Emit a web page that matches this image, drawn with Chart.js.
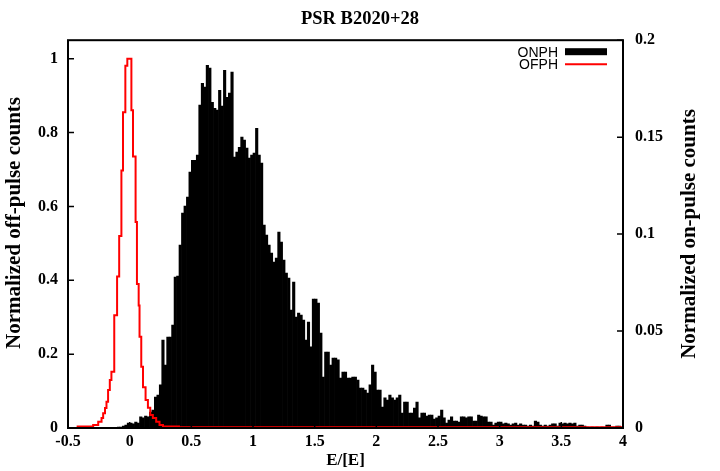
<!DOCTYPE html>
<html>
<head>
<meta charset="utf-8">
<script src="https://cdn.jsdelivr.net/npm/chart.js@4.4.1/dist/chart.umd.min.js"></script>
<style>
  html, body { margin: 0; padding: 0; background: #fff; }
  #wrap { width: 720px; height: 471px; }
</style>
</head>
<body>
<div id="wrap"><canvas id="pulseChart" width="720" height="471"></canvas></div>
<script>
const titleText = 'PSR B2020+28';
const xTitle = 'E/[E]';
const offTitle = 'Normalized off-pulse counts';
const onTitle = 'Normalized on-pulse counts';

const xTicks = [-0.5, 0, 0.5, 1, 1.5, 2, 2.5, 3, 3.5, 4];
const offTicks = [0, 0.2, 0.4, 0.6, 0.8, 1];
const onTicks = [0, 0.05, 0.1, 0.15, 0.2];

// on-pulse histogram (right axis), bins of 0.02 starting at -0.1
const onBinStart = -0.1;
const onBinWidth = 0.02;
const onCounts = [
  0.0005, 0.0005, 0.001, 0.0015, 0.0026, 0.0026, 0.0021, 0.0031, 0.0026, 0.0057,
  0.0052, 0.0062, 0.0057, 0.0082, 0.0093, 0.016, 0.017, 0.0222, 0.0454, 0.0325,
  0.0469, 0.0469, 0.0531, 0.0778, 0.0784, 0.0943, 0.1108, 0.1144, 0.1191, 0.132,
  0.1381, 0.1381, 0.1407, 0.1665, 0.1778, 0.1758, 0.1871, 0.1856, 0.168, 0.1649,
  0.1639, 0.1742, 0.166, 0.1845, 0.1706, 0.1727, 0.1835, 0.1397, 0.1423, 0.1448,
  0.15, 0.1485, 0.1443, 0.1392, 0.1407, 0.1418, 0.1546, 0.1407, 0.1366, 0.1046,
  0.0995, 0.0943, 0.0902, 0.0856, 0.0876, 0.101, 0.0959, 0.0866, 0.0799, 0.0773,
  0.0608, 0.0753, 0.0572, 0.0593, 0.0582, 0.0557, 0.0454, 0.0546, 0.0418, 0.0665,
  0.0665, 0.0644, 0.049, 0.0263, 0.0392, 0.0392, 0.0325, 0.0361, 0.0361, 0.0351,
  0.0258, 0.0289, 0.0289, 0.0258, 0.0258, 0.0263, 0.0263, 0.0247, 0.0206, 0.0206,
  0.0196, 0.018, 0.0222, 0.0325, 0.0289, 0.0196, 0.0196, 0.0108, 0.0155, 0.0144,
  0.017, 0.0155, 0.0144, 0.0155, 0.017, 0.0077, 0.0134, 0.0134, 0.0077, 0.0077,
  0.0103, 0.0134, 0.0052, 0.0077, 0.0077, 0.0062, 0.0067, 0.0067, 0.0046, 0.0052,
  0.0062, 0.0093, 0.0052, 0.0026, 0.0041, 0.0057, 0.0036, 0.0036, 0.0031, 0.0057,
  0.0057, 0.0052, 0.0057, 0.0057, 0.0036, 0.0036, 0.0067, 0.0062, 0.0057, 0.0057,
  0.0031, 0.0031, 0.0015, 0.0026, 0.0031, 0.0031, 0.0021, 0.0026, 0.0021, 0.0015,
  0.0021, 0.0026, 0.0015, 0.0021, 0.0015, 0.0015, 0.001, 0.0015, 0.001, 0.0036,
  0.0031, 0.0015, 0.001, 0.0015, 0.001, 0.0015, 0.0021, 0.0021, 0.001, 0.0026,
  0.0021, 0.0026, 0.0021, 0.0026, 0.0021, 0.0026, 0.001, 0.0015, 0.0015, 0.001,
  0.0005, 0, 0.0005, 0, 0.0005, 0, 0.0005, 0, 0.0015, 0.0015,
  0.0005, 0.0005, 0.001, 0.001, 0.0005
];

// off-pulse histogram (left axis): left bin edge and level of each step
const offEdges = [
  -0.43, -0.296, -0.255, -0.228, -0.215, -0.2, -0.188, -0.175, -0.161, -0.148,
  -0.125, -0.102, -0.085, -0.067, -0.054, -0.035, -0.019, 0.014, 0.027, 0.048,
  0.059, 0.073, 0.08, 0.094, 0.108, 0.129, 0.148, 0.167, 0.188, 0.215,
  0.242, 0.27, 0.4, 4.0
];
const offCounts = [
  0.004, 0.008, 0.017, 0.027, 0.04, 0.054, 0.071, 0.103, 0.13, 0.152,
  0.305, 0.41, 0.52, 0.697, 0.855, 0.981, 1.0, 0.86, 0.735, 0.558,
  0.39, 0.332, 0.247, 0.166, 0.11, 0.076, 0.055, 0.035, 0.027, 0.017,
  0.008, 0.004, 0.002, 0.002
];

const serifFamily = "'Liberation Serif', 'Times New Roman', serif";
const serifBold = size => ({ family: serifFamily, size: size, weight: 'bold' });

const onData = onCounts.map((v, i) => ({ x: onBinStart + onBinWidth * (i + 0.5), y: v }));
const offData = offCounts.map((v, i) => ({ x: offEdges[i], y: v }));

// draw a label turned to read bottom to top
const drawUpText = (ctx, text, x, y) => {
  ctx.save();
  ctx.translate(x, y);
  ctx.rotate(-Math.PI / 2);
  ctx.textAlign = 'center';
  ctx.textBaseline = 'middle';
  ctx.fillStyle = '#000';
  ctx.font = 'bold 21px ' + serifFamily;
  ctx.fillText(text, 0, 0);
  ctx.restore();
};

// frame, inward ticks, y titles and key in gnuplot style
const gnuFrame = {
  id: 'gnuFrame',
  afterDatasetsDraw(chart) {
    const { ctx, chartArea: a, scales } = chart;
    ctx.save();
    ctx.strokeStyle = '#000';
    ctx.lineWidth = 1.5;
    ctx.beginPath();
    xTicks.forEach(v => {
      const px = scales.x.getPixelForValue(v);
      ctx.moveTo(px, a.bottom);
      ctx.lineTo(px, a.bottom - 6);
    });
    offTicks.forEach(v => {
      const py = scales.y.getPixelForValue(v);
      ctx.moveTo(a.left, py);
      ctx.lineTo(a.left + 6, py);
    });
    onTicks.forEach(v => {
      const py = scales.y2.getPixelForValue(v);
      ctx.moveTo(a.right, py);
      ctx.lineTo(a.right - 6, py);
    });
    ctx.stroke();
    ctx.lineWidth = 2;
    ctx.strokeRect(a.left, a.top, a.right - a.left, a.bottom - a.top);

    // key
    ctx.font = "14px 'Liberation Sans', Arial, sans-serif";
    ctx.fillStyle = '#000';
    ctx.textAlign = 'right';
    ctx.textBaseline = 'middle';
    const ds = chart.data.datasets;
    ctx.fillText(ds[1].label, a.right - 65, a.top + 13);
    ctx.fillStyle = ds[1].backgroundColor;
    ctx.fillRect(a.right - 58, a.top + 8, 42, 7);
    ctx.fillStyle = '#000';
    ctx.fillText(ds[0].label, a.right - 65, a.top + 25);
    ctx.strokeStyle = ds[0].borderColor;
    ctx.lineWidth = 2;
    ctx.beginPath();
    ctx.moveTo(a.right - 58, a.top + 24);
    ctx.lineTo(a.right - 16, a.top + 24);
    ctx.stroke();
    ctx.restore();

    drawUpText(ctx, offTitle, 15, 223);
    drawUpText(ctx, onTitle, 690, 234);
  }
};

new Chart(document.getElementById('pulseChart'), {
  type: 'bar',
  data: {
    datasets: [
      {
        type: 'line',
        label: 'OFPH',
        data: offData,
        yAxisID: 'y',
        borderColor: '#ff0000',
        borderWidth: 2,
        pointRadius: 0,
        stepped: 'before',
        fill: false,
        order: 0
      },
      {
        type: 'bar',
        label: 'ONPH',
        data: onData,
        yAxisID: 'y2',
        backgroundColor: '#000000',
        borderWidth: 0,
        barPercentage: 1,
        categoryPercentage: 1,
        order: 1
      }
    ]
  },
  options: {
    responsive: false,
    animation: false,
    layout: { padding: 0 },
    plugins: {
      legend: { display: false },
      tooltip: { enabled: false },
      title: {
        display: true,
        text: titleText,
        color: '#000',
        font: serifBold(18.5),
        padding: { top: 8, bottom: 10 }
      }
    },
    scales: {
      x: {
        type: 'linear',
        offset: false,
        min: -0.5,
        max: 4,
        afterBuildTicks: s => { s.ticks = xTicks.map(v => ({ value: v })); },
        afterFit: s => { s.height = 43; },
        grid: { display: false, drawTicks: false, offset: false },
        border: { display: false },
        ticks: { color: '#000', font: serifBold(16), padding: 4, maxRotation: 0, autoSkip: false,
                 callback: v => String(v) },
        title: { display: true, text: xTitle, color: '#000', font: serifBold(17), padding: { top: 0, bottom: 0 } }
      },
      y: {
        position: 'left',
        min: 0,
        max: 1.05,
        afterBuildTicks: s => { s.ticks = offTicks.map(v => ({ value: v })); },
        afterFit: s => { s.width = 68; },
        grid: { display: false, drawTicks: false },
        border: { display: false },
        ticks: { color: '#000', font: serifBold(16), padding: 10, callback: v => String(v) }
      },
      y2: {
        position: 'right',
        min: 0,
        max: 0.2,
        afterBuildTicks: s => { s.ticks = onTicks.map(v => ({ value: v })); },
        afterFit: s => { s.width = 97; },
        grid: { display: false, drawTicks: false },
        border: { display: false },
        ticks: { color: '#000', font: serifBold(16), padding: 12, callback: v => String(v) }
      }
    }
  },
  plugins: [gnuFrame]
});
</script>
</body>
</html>
